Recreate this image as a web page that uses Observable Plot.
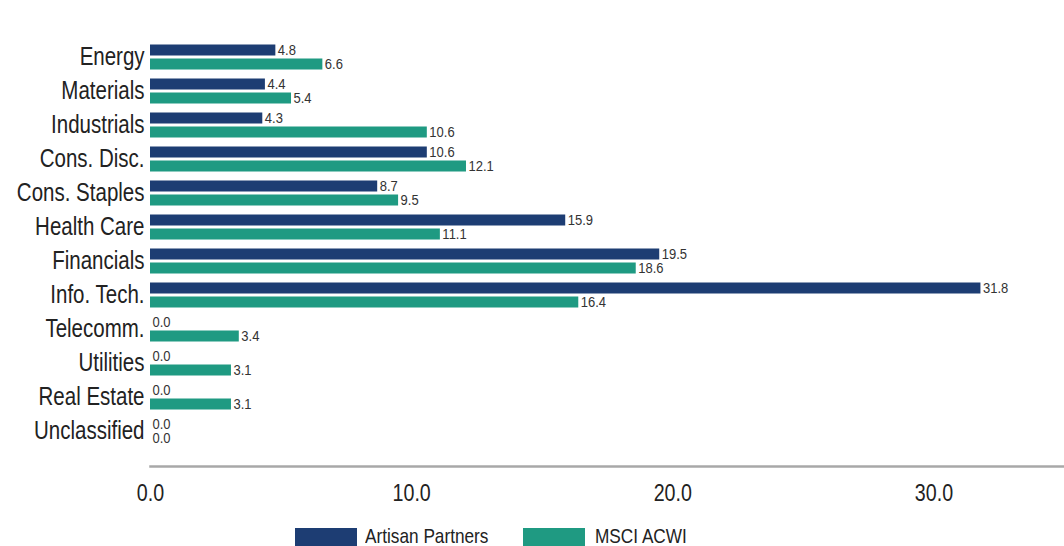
<!DOCTYPE html>
<html><head><meta charset="utf-8">
<script src="https://cdn.jsdelivr.net/npm/d3@7"></script>
<script src="https://cdn.jsdelivr.net/npm/@observablehq/plot@0.6"></script>
<style>
body{margin:0;background:#fff;font-family:"Liberation Sans",Arial,sans-serif;}
#legend{position:relative;height:26px;color:#222;}
.sw{position:absolute;top:8px;width:62px;height:18px;}
.lt{position:absolute;top:5px;font-size:21px;line-height:21px;transform:scaleX(0.82);transform-origin:0 50%;white-space:nowrap;}
</style></head><body><div id="chart"></div><div id="legend"></div>
<script>
const sectors = ["Energy","Materials","Industrials","Cons. Disc.","Cons. Staples","Health Care","Financials","Info. Tech.","Telecomm.","Utilities","Real Estate","Unclassified"];
const artisan = [4.8,4.4,4.3,10.6,8.7,15.9,19.5,31.8,0.0,0.0,0.0,0.0];
const msci = [6.6,5.4,10.6,12.1,9.5,11.1,18.6,16.4,3.4,3.1,3.1,0.0];
const seriesNames = ["Artisan Partners","MSCI ACWI"];
const xTicks = [0,10,20,30];
const colors = ["#1d3d73","#1f9a82"];

const font = '"Liberation Sans",Arial,sans-serif';
const rowsA = sectors.map((s,i)=>({sector:s, value:artisan[i]}));
const rowsM = sectors.map((s,i)=>({sector:s, value:msci[i]}));

const chart = Plot.plot({
  width:1064, height:520, marginLeft:150, marginRight:0, marginTop:39, marginBottom:54,
  style:{fontFamily:font, background:"white", color:"#222"},
  x:{domain:[0,35], label:null},
  y:{domain:sectors, paddingInner:0, paddingOuter:0.246, align:0, label:null},
  marks:[
    Plot.barX(rowsA,{x:"value", y:"sector", fill:colors[0], insetTop:5.5, insetBottom:17.5}),
    Plot.barX(rowsM,{x:"value", y:"sector", fill:colors[1], insetTop:19.5, insetBottom:3.5}),
    Plot.text(rowsA,{x:"value", y:"sector", text:d=>d.value.toFixed(1), dx:2, dy:-6, textAnchor:"start", fontSize:15.5, fill:"#333"}),
    Plot.text(rowsM,{x:"value", y:"sector", text:d=>d.value.toFixed(1), dx:2, dy:8, textAnchor:"start", fontSize:15.5, fill:"#333"}),
    Plot.frame({anchor:"bottom", stroke:"#a8a8a8", strokeWidth:2.5}),
    Plot.axisY({tickSize:0, tickPadding:6, fontSize:25, label:null}),
    Plot.axisX({ticks:xTicks, tickFormat:d=>d.toFixed(1), tickSize:0, tickPadding:17, fontSize:24, label:null})
  ]
});
document.getElementById("chart").appendChild(chart);

// condense labels (narrow typeface look), scaling about each label's anchor
function condense(sel, k){
  chart.querySelectorAll(sel).forEach(t=>{
    const b = t.getBBox();
    const anchor = getComputedStyle(t).textAnchor || t.getAttribute("text-anchor") ||
      (t.parentNode && t.parentNode.getAttribute("text-anchor"));
    let ax = b.x + b.width/2;
    if (anchor === "end") ax = b.x + b.width;
    else if (anchor === "start") ax = b.x;
    const tr = t.getAttribute("transform") || "";
    t.setAttribute("transform", `${tr} translate(${ax},0) scale(${k},1) translate(${-ax},0)`);
  });
}
condense('g[aria-label="y-axis tick label"] text', 0.82);
condense('g[aria-label="x-axis tick label"] text', 0.82);
condense('g[aria-label="text"] text', 0.84);

const lg = document.getElementById("legend");
const swX = [295, 523], txX = [365, 595];
seriesNames.forEach((n,i)=>{
  const sw = document.createElement("div"); sw.className="sw"; sw.style.background=colors[i]; sw.style.left=swX[i]+"px";
  const t = document.createElement("div"); t.className="lt"; t.textContent=n; t.style.left=txX[i]+"px";
  lg.appendChild(sw); lg.appendChild(t);
});
</script></body></html>
